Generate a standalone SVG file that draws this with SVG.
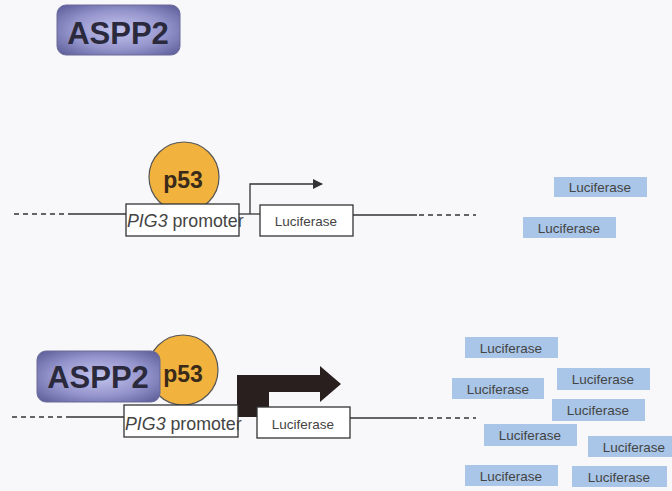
<svg xmlns="http://www.w3.org/2000/svg" width="672" height="491" viewBox="0 0 672 491">
<defs>
<radialGradient id="aspp" cx="50%" cy="50%" r="65%">
<stop offset="0" stop-color="#c4c4ee"/>
<stop offset="0.6" stop-color="#9494cc"/>
<stop offset="1" stop-color="#62629e"/>
</radialGradient>
<marker id="ah" markerWidth="10" markerHeight="10" refX="9" refY="5" orient="auto" markerUnits="userSpaceOnUse">
<path d="M0,0 L10,5 L0,10 Z" fill="#333"/>
</marker>
</defs>
<style>
.bg{fill:#f8f8fa}
.aspp{fill:url(#aspp);stroke:#6a6a9a;stroke-width:1}
.asppt{font-family:"Liberation Sans",Arial,sans-serif;font-weight:bold;font-size:31px;fill:#2a2a3c;text-anchor:middle}
.p53{fill:#f1b23e;stroke:#555;stroke-width:1.2}
.p53t{font-family:"Liberation Sans",Arial,sans-serif;font-weight:bold;font-size:23px;fill:#3a2a1a;text-anchor:middle}
.box{fill:#fff;stroke:#333;stroke-width:1.3}
.prom{font-family:"Liberation Sans",Arial,sans-serif;font-size:17.8px;fill:#444}
.luct{font-family:"Liberation Sans",Arial,sans-serif;font-size:13.5px;fill:#444;text-anchor:middle}
.lucb{fill:#a9c6e8}
.dna{stroke:#333;stroke-width:1.3;fill:none}
.dash{stroke:#333;stroke-width:1.3;fill:none;stroke-dasharray:5,4}
</style>
<rect class="bg" x="0" y="0" width="672" height="491"/>

<g id="connectors">
<line class="dash" x1="14" y1="214" x2="70" y2="214"/>
<line class="dna" x1="70" y1="214" x2="126" y2="214"/>
<line class="dna" x1="239" y1="214" x2="260" y2="214"/>
<line class="dna" x1="353" y1="215" x2="417" y2="215"/>
<line class="dash" x1="419" y1="215" x2="476" y2="215"/>
<path class="dna" d="M250,214 V184 H322" marker-end="url(#ah)"/>
<line class="dash" x1="12" y1="417" x2="70" y2="417"/>
<line class="dna" x1="70" y1="417" x2="124" y2="417"/>
<line class="dna" x1="350" y1="418" x2="417" y2="418"/>
<line class="dash" x1="419" y1="418" x2="476" y2="418"/>
</g>

<g id="aspp2-top">
<rect class="aspp" x="57" y="5" width="123" height="50" rx="9"/>
<text class="asppt" x="118" y="44">ASPP2</text>
</g>

<g id="p53-top">
<circle class="p53" cx="184" cy="177" r="35"/>
<text class="p53t" x="183" y="188">p53</text>
</g>

<g id="promoter-top">
<rect class="box" x="126" y="204" width="113" height="32"/>
<text class="prom" x="127" y="227"><tspan font-style="italic">PIG3</tspan> promoter</text>
</g>

<g id="luciferase-top">
<rect class="box" x="260" y="205" width="93" height="31"/>
<text class="luct" x="306" y="226">Luciferase</text>
</g>

<g id="products-top">
<rect class="lucb" x="554" y="177" width="93" height="20"/>
<text class="luct" x="600" y="192">Luciferase</text>
<rect class="lucb" x="523" y="217" width="93" height="21"/>
<text class="luct" x="569" y="233">Luciferase</text>
</g>

<g id="p53-bottom">
<circle class="p53" cx="183" cy="370" r="35"/>
</g>

<g id="aspp2-bottom">
<rect class="aspp" x="37" y="351" width="123" height="51" rx="9"/>
<text class="asppt" x="98" y="388">ASPP2</text>
<text class="p53t" x="183" y="382">p53</text>
</g>

<g id="arrow-bottom">
<path d="M237,417 V375 H320 V366 L341,384 L320,402 V392 H269 V417 Z" fill="#2a1f1f"/>
</g>

<g id="promoter-bottom">
<rect class="box" x="124" y="405" width="114" height="32"/>
<text class="prom" x="125" y="430"><tspan font-style="italic">PIG3</tspan> promoter</text>
</g>

<g id="luciferase-bottom">
<rect class="box" x="257" y="407" width="93" height="31"/>
<text class="luct" x="303" y="429">Luciferase</text>
</g>

<g id="products-bottom">
<rect class="lucb" x="465" y="337" width="93" height="21"/>
<text class="luct" x="511" y="353">Luciferase</text>
<rect class="lucb" x="452" y="378" width="92" height="21"/>
<text class="luct" x="498" y="394">Luciferase</text>
<rect class="lucb" x="557" y="368" width="93" height="22"/>
<text class="luct" x="603" y="384">Luciferase</text>
<rect class="lucb" x="552" y="399" width="93" height="22"/>
<text class="luct" x="598" y="415">Luciferase</text>
<rect class="lucb" x="484" y="424" width="93" height="22"/>
<text class="luct" x="530" y="440">Luciferase</text>
<rect class="lucb" x="588" y="436" width="90" height="21"/>
<text class="luct" x="634" y="452">Luciferase</text>
<rect class="lucb" x="465" y="465" width="93" height="21"/>
<text class="luct" x="511" y="481">Luciferase</text>
<rect class="lucb" x="572" y="466" width="95" height="21"/>
<text class="luct" x="619" y="482">Luciferase</text>
</g>
</svg>
